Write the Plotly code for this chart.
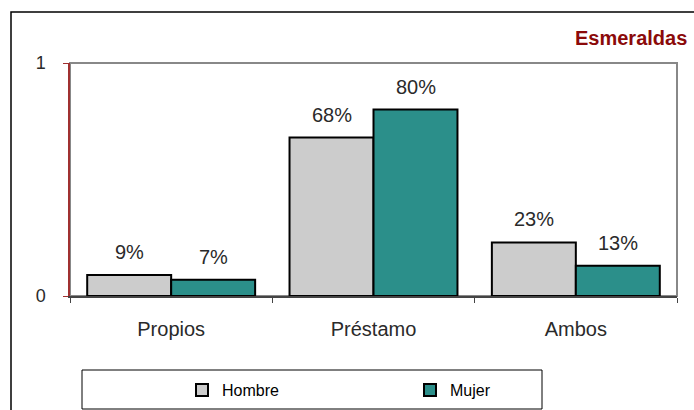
import plotly.graph_objects as go

categories = ["Propios", "Préstamo", "Ambos"]
hombre = [0.09, 0.68, 0.23]
mujer = [0.07, 0.80, 0.13]
series_names = ["Hombre", "Mujer"]
title_text = "Esmeraldas"

W, H = 694, 410
L, R, T, B = 70, 17, 63, 114
pw, ph = W - L - R, H - T - B

def px(xp):
    return (xp - L) / pw

def py(yp):
    return (H - B - yp) / ph

FONT = "Liberation Sans, Arial, sans-serif"

fig = go.Figure()
fig.add_trace(go.Bar(x=categories, y=hombre, name=series_names[0],
                     marker=dict(color="#CCCCCC", line=dict(color="#000000", width=2))))
fig.add_trace(go.Bar(x=categories, y=mujer, name=series_names[1],
                     marker=dict(color="#2B8F8A", line=dict(color="#000000", width=2))))

annotations = []
for vals, shift in ((hombre, -42), (mujer, 42)):
    for c, v in zip(categories, vals):
        annotations.append(dict(x=c, y=v, xref="x", yref="y", text=f"{round(v*100)}%",
                                showarrow=False, xshift=shift, yshift=10, yanchor="bottom",
                                font=dict(family=FONT, size=20, color="#2A2A2A")))
annotations.append(dict(x=px(689), y=py(38), xref="paper", yref="paper", text="<b>" + title_text + "</b>",
                        showarrow=False, xanchor="right", yanchor="middle",
                        font=dict(family=FONT, size=20, color="#8B0A0A")))

shapes = [
    # outer frame
    dict(type="rect", xref="paper", yref="paper", x0=px(11), y0=py(12), x1=px(720), y1=py(440),
         line=dict(color="#000000", width=1.5), layer="below"),
    # plot area border
    dict(type="rect", xref="paper", yref="paper", x0=0, y0=0, x1=1, y1=1,
         line=dict(color="#888888", width=2), layer="below"),
    # legend box
    dict(type="rect", xref="paper", yref="paper", x0=px(82), y0=py(370), x1=px(542), y1=py(409),
         line=dict(color="#000000", width=1), layer="below"),
]

fig.update_layout(
    width=W, height=H,
    margin=dict(l=L, r=R, t=T, b=B, autoexpand=False),
    paper_bgcolor="white", plot_bgcolor="white",
    barmode="group", bargap=0.17, bargroupgap=0,
    font=dict(family=FONT, size=18, color="#222222"),
    showlegend=True,
    legend=dict(orientation="h", x=px(182), y=py(390), xanchor="left", yanchor="middle",
                entrywidth=183, entrywidthmode="pixels", bgcolor="rgba(0,0,0,0)",
                font=dict(family=FONT, size=16, color="#000000"), itemclick=False),
    annotations=annotations,
    shapes=shapes,
)
fig.update_xaxes(showline=True, linecolor="#444444", linewidth=2, ticks="outside", tickson="boundaries",
                 ticklen=5, tickcolor="#444444", tickwidth=1, showgrid=False, automargin=False,
                 tickfont=dict(family=FONT, size=20, color="#2A2A2A"), ticklabelstandoff=14)
fig.update_yaxes(range=[0, 1], tickvals=[0, 1], ticktext=["0", "1"], showline=True, linecolor="#A03030",
                 linewidth=1.5, ticks="outside", ticklen=5, tickcolor="#A03030", showgrid=False,
                 zeroline=False, automargin=False,
                 tickfont=dict(family=FONT, size=18, color="#2A2A2A"), ticklabelstandoff=14)

fig.write_html("out.html")
